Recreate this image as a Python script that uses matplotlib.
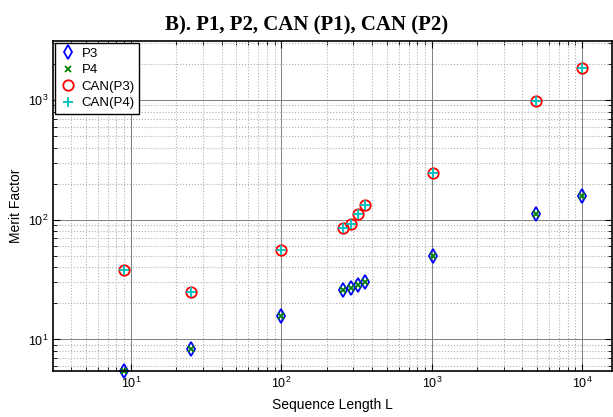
import numpy as np
import matplotlib
matplotlib.use("Agg")
import matplotlib.pyplot as plt
from matplotlib.ticker import LogLocator, NullFormatter

plt.rcParams['font.family'] = ['Liberation Sans', 'DejaVu Sans']
plt.rcParams['mathtext.fontset'] = 'custom'
plt.rcParams['mathtext.rm'] = 'Liberation Sans'

# Data
seq_len = [9, 25, 100, 256, 289, 324, 361, 1024, 4900, 10000]
mf_p3 = [5.5, 8.3, 15.7, 25.7, 26.9, 28.7, 30.2, 49.5, 111, 157]
mf_p4 = [5.5, 8.3, 15.7, 25.7, 26.9, 28.7, 30.2, 49.5, 111, 157]
mf_can_p3 = [37.8, 24.9, 56.3, 86, 91.6, 110.6, 134, 248, 987, 1842]
mf_can_p4 = [37.8, 24.9, 56.3, 86, 91.6, 110.6, 134, 248, 987, 1842]
labels = ["P3", "P4", "CAN(P3)", "CAN(P4)"]

fig = plt.figure(figsize=(6.13, 4.17), dpi=100)
ax = fig.add_axes([0.0865, 0.111, 0.9115, 0.791])

ax.plot(seq_len, mf_p3, 'd', ms=7, mfc='none', mec='#0000ff', mew=1.3, label=labels[0], clip_on=False)
ax.plot(seq_len, mf_p4, 'x', ms=4.5, mec='#008000', mew=1.3, label=labels[1], clip_on=False)
ax.plot(seq_len, mf_can_p3, 'o', ms=7.5, mfc='none', mec='#ff0000', mew=1.3, label=labels[2], clip_on=False)
ax.plot(seq_len, mf_can_p4, '+', ms=6.5, mec='#00bfbf', mew=1.3, label=labels[3], clip_on=False)

ax.set_xscale('log')
ax.set_yscale('log')
ax.set_xlim(3.03, 1.57e4)
ax.set_ylim(5.48, 3120)

ax.xaxis.set_minor_locator(LogLocator(base=10, subs=np.arange(2, 10), numticks=20))
ax.yaxis.set_minor_locator(LogLocator(base=10, subs=np.arange(2, 10), numticks=20))
ax.xaxis.set_minor_formatter(NullFormatter())
ax.yaxis.set_minor_formatter(NullFormatter())

ax.grid(True, which='major', color='#808080', linestyle='-', linewidth=0.7)
ax.grid(True, which='minor', color='#b0b0b0', linestyle=':', linewidth=0.8)
ax.set_axisbelow(True)

ax.tick_params(which='both', direction='in', top=True, right=True, labelsize=9)
ax.tick_params(which='major', length=5)
ax.tick_params(which='minor', length=3)
for sp in ax.spines.values():
    sp.set_linewidth(1.2)

ax.set_xlabel("Sequence Length L", fontsize=10, labelpad=5)
ax.set_ylabel("Merit Factor", fontsize=10, labelpad=3)
fig.text(0.5, 1 - 30 / 417, "B). P1, P2, CAN (P1), CAN (P2)", fontsize=15, fontweight='bold',
         family='Liberation Serif', ha='center', va='baseline')

leg = ax.legend(loc='upper left', fontsize=9.5, frameon=True, fancybox=False,
                edgecolor='black', framealpha=1, borderaxespad=0.15,
                handlelength=1.3, handletextpad=0.35, labelspacing=0.33, borderpad=0.35)
leg.get_frame().set_linewidth(1.0)

fig.savefig("out.png", dpi=100)
